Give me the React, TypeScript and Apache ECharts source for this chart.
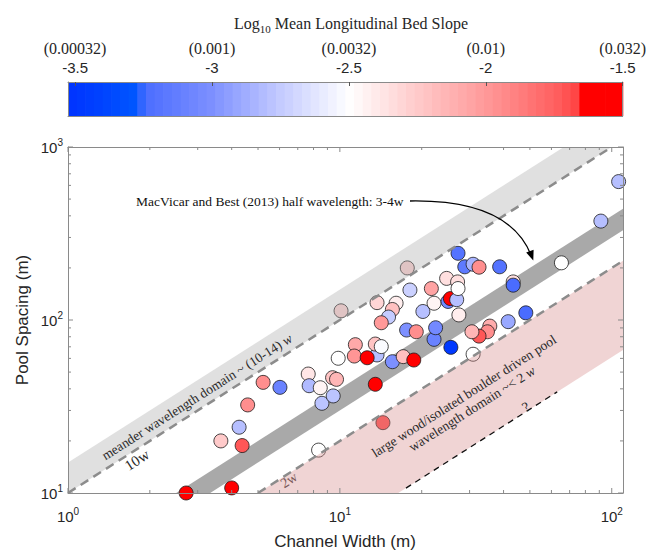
import React, { useEffect, useRef } from 'react';
import * as echarts from 'echarts';

// Field survey: channel width (m), mean pool spacing (m), log10 mean bed slope
const channelWidth = [2.72, 4.0, 4.37, 3.65, 4.26, 4.58, 5.22, 6.02, 8.35, 7.65, 7.71, 8.47, 8.59, 9.45, 9.4, 9.72, 9.86, 11.4, 11.3, 13.7, 12.6, 13.5, 14.2, 13.5, 15.6, 17.1, 18.7, 14.4, 17.6, 19.1, 22.2, 25.6, 17.7, 10.1, 13.7, 16.1, 15.6, 15.1, 14.2, 18.1, 21.7, 22.2, 24.7, 25.0, 25.5, 27.1, 26.9, 27.2, 20.2, 22.5, 28.8, 30.9, 32.5, 38.7, 27.2, 27.4, 43.4, 43.4, 65.3, 91.2, 106, 48.3, 41.6, 35.6, 34.9, 32.5, 30.6, 30.9];
const poolSpacing = [10.0, 10.7, 18.8, 20.0, 24.0, 32.3, 43.6, 40.8, 17.7, 48.7, 41.7, 40.6, 33.0, 36.4, 46.4, 45.4, 60.1, 72.0, 61.9, 62.8, 60.5, 72.6, 70.2, 42.5, 57.4, 61.4, 58.7, 25.5, 87.5, 85.5, 77.3, 69.5, 200, 113, 126, 125, 115, 104, 96.4, 149, 152, 125, 174, 128, 133, 166, 131, 243, 112, 90.2, 203, 210, 202, 203, 152, 107, 166, 159, 214, 373, 631, 110, 97.8, 92.2, 85.5, 80.7, 85.5, 63.4];
const logSlope = [-1.5, -1.62, -1.72, -2.25, -2.8, -1.95, -1.95, -3.1, -2.5, -2.38, -2.82, -2.45, -2.78, -2.78, -2.22, -2.15, -2.5, -2.08, -1.98, -2.8, -1.52, -2.22, -2.52, -1.65, -3.0, -2.2, -1.52, -1.72, -3.0, -1.95, -3.1, -3.48, -2.3, -2.3, -2.3, -2.42, -2.2, -2.75, -2.0, -2.72, -2.05, -2.45, -2.35, -3.05, -1.6, -2.35, -2.8, -3.2, -2.8, -3.05, -3.15, -2.85, -1.95, -3.2, -2.5, -2.42, -2.35, -3.25, -2.5, -2.8, -2.8, -3.25, -2.9, -2.1, -1.95, -1.72, -2.15, -2.5];

// Colour bar
const slopeMin = -3.526;
const slopeMax = -1.5;
const colorBarSteps = 64;
const colorTicks = [-3.5, -3, -2.5, -2, -1.5];
const colorTickSlopes = ['0.00032', '0.001', '0.0032', '0.01', '0.032'];
const colorStops: [number, string][] = [
  [-3.526, '#0033ff'],
  [-3.42, '#0040ff'],
  [-3.27, '#0058ff'],
  [-3.25, '#4a6cff'],
  [-3.0, '#7d90ff'],
  [-2.75, '#c4cbff'],
  [-2.5, '#ffffff'],
  [-2.25, '#ffcaca'],
  [-2.0, '#ff9999'],
  [-1.75, '#ff6161'],
  [-1.67, '#ff4545'],
  [-1.66, '#ff0000'],
  [-1.5, '#ff0000'],
];

// Spacing domains, as multiples of channel width
const meanderLow = 10;
const meanderHigh = 15;
const halfWaveLow = 3;
const halfWaveHigh = 4;
const woodHigh = 2;
const woodLow = 0.61;
const woodGuideWidths = [17.5, 63];

// Axis ranges and ticks
const widthRange = [1, 110];
const spacingRange = [10, 1000];
const widthTicks = [1, 2, 3, 4, 5, 6, 7, 8, 9, 10, 20, 30, 40, 50, 60, 70, 80, 90, 100];
const spacingTicks = [10, 20, 30, 40, 50, 60, 70, 80, 90, 100, 200, 300, 400, 500, 600, 700, 800, 900, 1000];

const SERIF = "'Liberation Serif', 'Times New Roman', serif";
const SANS = "'Liberation Sans', Arial, Helvetica, sans-serif";
const AXIS_GRAY = '#8a8a8a';
const INK = '#262626';

function hexRgb(h: string) {
  return [parseInt(h.slice(1, 3), 16), parseInt(h.slice(3, 5), 16), parseInt(h.slice(5, 7), 16)];
}

function slopeColor(v: number) {
  if (v <= colorStops[0][0]) return colorStops[0][1];
  for (let i = 1; i < colorStops.length; i++) {
    const [v1, c1] = colorStops[i];
    const [v0, c0] = colorStops[i - 1];
    if (v <= v1) {
      const t = (v - v0) / (v1 - v0);
      const a = hexRgb(c0);
      const b = hexRgb(c1);
      const c = a.map((x, k) => Math.round(x + (b[k] - x) * t));
      return `rgb(${c[0]},${c[1]},${c[2]})`;
    }
  }
  return colorStops[colorStops.length - 1][1];
}

const isPow10 = (v: number) => Math.abs(Math.log10(v) - Math.round(Math.log10(v))) < 1e-6;

function bandSeries(lo: number, hi: number, fill: string, z: number) {
  return {
    type: 'custom',
    xAxisIndex: 0,
    yAxisIndex: 0,
    z,
    silent: true,
    data: [[1, 10]],
    renderItem: (params: any, api: any) => {
      const cs = params.coordSys;
      const xs = [0.3, 400];
      const pts = [
        api.coord([xs[0], lo * xs[0]]),
        api.coord([xs[1], lo * xs[1]]),
        api.coord([xs[1], hi * xs[1]]),
        api.coord([xs[0], hi * xs[0]]),
      ];
      return {
        type: 'group',
        clipPath: { type: 'rect', shape: { x: cs.x, y: cs.y, width: cs.width, height: cs.height } },
        children: [{ type: 'polygon', shape: { points: pts }, style: { fill } }],
      };
    },
  };
}

function dashedLine(points: number[][], color: string, width: number, dash: number[]) {
  return {
    type: 'line',
    xAxisIndex: 0,
    yAxisIndex: 0,
    z: 4,
    silent: true,
    symbol: 'none',
    data: points,
    lineStyle: { color, width, type: dash },
  };
}

const supLabelRich = {
  b: { fontFamily: SANS, fontSize: 15, color: INK, lineHeight: 20 },
  p: { fontFamily: SANS, fontSize: 10, color: INK, verticalAlign: 'top' },
};

const pow10Label = (v: number) => (isPow10(v) ? `{b|10}{p|${Math.round(Math.log10(v))}}` : '');

export default function App() {
  const ref = useRef<HTMLDivElement>(null);

  useEffect(() => {
    if (!ref.current) return;
    const chart = echarts.init(ref.current, undefined, { renderer: 'svg' });

    const scatterData = channelWidth.map((w, i) => [w, poolSpacing[i], logSlope[i]]);
    const barStep = (slopeMax - slopeMin) / colorBarSteps;
    const barData = Array.from({ length: colorBarSteps }, (_, i) => {
      const v0 = slopeMin + i * barStep;
      return [v0 + barStep / 2, 0.5, v0, v0 + barStep];
    });
    const tickData = [
      ...widthTicks.map((v) => [v, spacingRange[0], 0, isPow10(v) ? 5 : 3]),
      ...spacingTicks.map((v) => [widthRange[0], v, 1, isPow10(v) ? 5 : 3]),
    ];

    const rot = Math.atan2(173, 272);
    const axisLine = { show: true, onZero: false, lineStyle: { color: AXIS_GRAY, width: 1 } };
    const hiddenAxis = { axisTick: { show: false }, axisLabel: { show: false }, splitLine: { show: false } };

    const txt = (x: number, y: number, text: string, style: any, rotation = 0) => ({
      type: 'text',
      x,
      y,
      rotation,
      z: 100,
      silent: true,
      style: { text, align: 'center', verticalAlign: 'middle', fill: '#1f1f1f', ...style },
    });

    const option: any = {
      animation: false,
      grid: [
        { left: 68, top: 147, width: 555, height: 346 },
        { left: 68, top: 82, width: 555, height: 34 },
      ],
      xAxis: [
        {
          gridIndex: 0, type: 'log', logBase: 10, min: widthRange[0], max: widthRange[1], position: 'bottom', z: 10,
          axisLine, axisTick: { show: false }, splitLine: { show: false },
          axisLabel: { formatter: pow10Label, rich: supLabelRich, margin: 13, showMaxLabel: false },
        },
        { gridIndex: 0, type: 'log', logBase: 10, min: widthRange[0], max: widthRange[1], position: 'top', z: 10, axisLine, ...hiddenAxis },
        {
          gridIndex: 1, type: 'value', min: slopeMin, max: slopeMax, position: 'top', z: 10,
          axisLine, splitLine: { show: false },
          axisTick: { show: true, inside: true, length: 4, customValues: colorTicks, lineStyle: { color: '#555' } },
          axisLabel: {
            customValues: colorTicks,
            margin: 5,
            formatter: (v: number) => {
              const i = colorTicks.findIndex((t) => Math.abs(t - v) < 1e-6);
              return `{p|(${colorTickSlopes[i]})}\n{n|${v}}`;
            },
            rich: {
              p: { fontFamily: SERIF, fontSize: 16, color: INK, lineHeight: 19 },
              n: { fontFamily: SANS, fontSize: 15, color: INK, lineHeight: 19 },
            },
          },
        },
        { gridIndex: 1, type: 'value', min: slopeMin, max: slopeMax, position: 'bottom', z: 10, axisLine, ...hiddenAxis },
      ],
      yAxis: [
        {
          gridIndex: 0, type: 'log', logBase: 10, min: spacingRange[0], max: spacingRange[1], position: 'left', z: 10,
          axisLine, axisTick: { show: false }, splitLine: { show: false },
          axisLabel: { formatter: pow10Label, rich: supLabelRich, margin: 5 },
        },
        { gridIndex: 0, type: 'log', logBase: 10, min: spacingRange[0], max: spacingRange[1], position: 'right', z: 10, axisLine, ...hiddenAxis },
        { gridIndex: 1, type: 'value', min: 0, max: 1, position: 'left', z: 10, axisLine, ...hiddenAxis },
        { gridIndex: 1, type: 'value', min: 0, max: 1, position: 'right', z: 10, axisLine, ...hiddenAxis },
      ],
      series: [
        bandSeries(halfWaveLow, halfWaveHigh, '#a9a9a9', 1),
        {
          type: 'scatter',
          xAxisIndex: 0,
          yAxisIndex: 0,
          z: 2,
          symbol: 'circle',
          symbolSize: 14,
          data: scatterData,
          itemStyle: {
            color: (p: any) => slopeColor(p.value[2]),
            borderColor: '#1a1a1a',
            borderWidth: 0.8,
            opacity: 1,
          },
        },
        bandSeries(meanderLow, meanderHigh, 'rgba(166,166,166,0.35)', 3),
        bandSeries(woodLow, woodHigh, 'rgba(212,132,132,0.35)', 3),
        dashedLine([[widthRange[0], meanderLow * widthRange[0]], [100, meanderLow * 100]], '#8c8c8c', 2.5, [9, 6]),
        dashedLine([[spacingRange[0] / woodHigh, spacingRange[0]], [widthRange[1], woodHigh * widthRange[1]]], '#8c8c8c', 2.5, [9, 6]),
        dashedLine(woodGuideWidths.map((w) => [w, woodLow * w]), '#111', 1.3, [6, 5]),
        {
          type: 'custom',
          xAxisIndex: 0,
          yAxisIndex: 0,
          z: 6,
          silent: true,
          data: tickData,
          renderItem: (params: any, api: any) => {
            const cs = params.coordSys;
            const len = api.value(3);
            const p = api.coord([api.value(0), api.value(1)]);
            const style = { stroke: AXIS_GRAY, lineWidth: 1 };
            if (api.value(2) === 0) {
              const yb = cs.y + cs.height;
              const yt = cs.y;
              return {
                type: 'group',
                children: [
                  { type: 'line', shape: { x1: p[0], y1: yb, x2: p[0], y2: yb - len }, style },
                  { type: 'line', shape: { x1: p[0], y1: yt, x2: p[0], y2: yt + len }, style },
                ],
              };
            }
            const xl = cs.x;
            const xr = cs.x + cs.width;
            return {
              type: 'group',
              children: [
                { type: 'line', shape: { x1: xl, y1: p[1], x2: xl + len, y2: p[1] }, style },
                { type: 'line', shape: { x1: xr, y1: p[1], x2: xr - len, y2: p[1] }, style },
              ],
            };
          },
        },
        {
          type: 'custom',
          xAxisIndex: 2,
          yAxisIndex: 2,
          z: 1,
          silent: true,
          data: barData,
          renderItem: (params: any, api: any) => {
            const p0 = api.coord([api.value(2), 0]);
            const p1 = api.coord([api.value(3), 1]);
            return {
              type: 'rect',
              shape: { x: p0[0], y: p1[1], width: p1[0] - p0[0] + 0.6, height: p0[1] - p1[1] },
              style: { fill: slopeColor(api.value(0)) },
            };
          },
        },
      ],
      graphic: [
        txt(351, 23, '{a|Log}{s|10}{a| Mean Longitudinal Bed Slope}', {
          rich: {
            a: { fontFamily: SERIF, fontSize: 16, fill: INK, lineHeight: 22 },
            s: { fontFamily: SERIF, fontSize: 11, fill: INK, verticalAlign: 'bottom' },
          },
        }),
        txt(136, 201, 'MacVicar and Best (2013) half wavelength: 3-4w', {
          align: 'left', fontFamily: SERIF, fontSize: 13.5, fill: '#111',
        }),
        {
          type: 'bezierCurve',
          z: 100,
          silent: true,
          shape: { x1: 410, y1: 201, cpx1: 470, cpy1: 200, cpx2: 515, cpy2: 215, x2: 531, y2: 255 },
          style: { stroke: '#000', lineWidth: 1.3, fill: null },
        },
        {
          type: 'polygon',
          z: 100,
          silent: true,
          shape: { points: [[533.3, 260.5], [526.2, 252.6], [533.6, 249.8]] },
          style: { fill: '#000' },
        },
        txt(197, 397, '{t|meander wavelength domain ~ (10-14) }{i|w}', {
          rich: {
            t: { fontFamily: SERIF, fontSize: 13.5, fill: '#2a2a2a' },
            i: { fontFamily: SERIF, fontSize: 13.5, fontStyle: 'italic', fill: '#2a2a2a' },
          },
        }, rot),
        txt(137, 460, '10w', { fontFamily: SERIF, fontSize: 15, fill: '#2a2a2a' }, rot),
        txt(289, 480, '2w', { fontFamily: SERIF, fontSize: 14, fill: '#7a5858' }, rot),
        txt(468, 402.5, '{t|large wood/isolated boulder driven pool}\n{t|wavelength domain ~< 2 }{i|w}', {
          rich: {
            t: { fontFamily: SERIF, fontSize: 13.5, fill: '#2a2a2a', lineHeight: 15 },
            i: { fontFamily: SERIF, fontSize: 13.5, fontStyle: 'italic', fill: '#2a2a2a', lineHeight: 15 },
          },
        }, rot),
        txt(526, 407, '?', { fontFamily: SERIF, fontSize: 14, fill: '#1f1f1f' }, rot),
        txt(22, 320, 'Pool Spacing (m)', { fontFamily: SANS, fontSize: 17, fill: INK }, Math.PI / 2),
        txt(345, 541, 'Channel Width (m)', { fontFamily: SANS, fontSize: 17, fill: INK }),
      ],
    };

    chart.setOption(option);
    return () => chart.dispose();
  }, []);

  return (
    <div
      ref={ref}
      style={{ position: 'fixed', left: 0, top: 0, width: 649, height: 552, background: '#fff' }}
    />
  );
}
